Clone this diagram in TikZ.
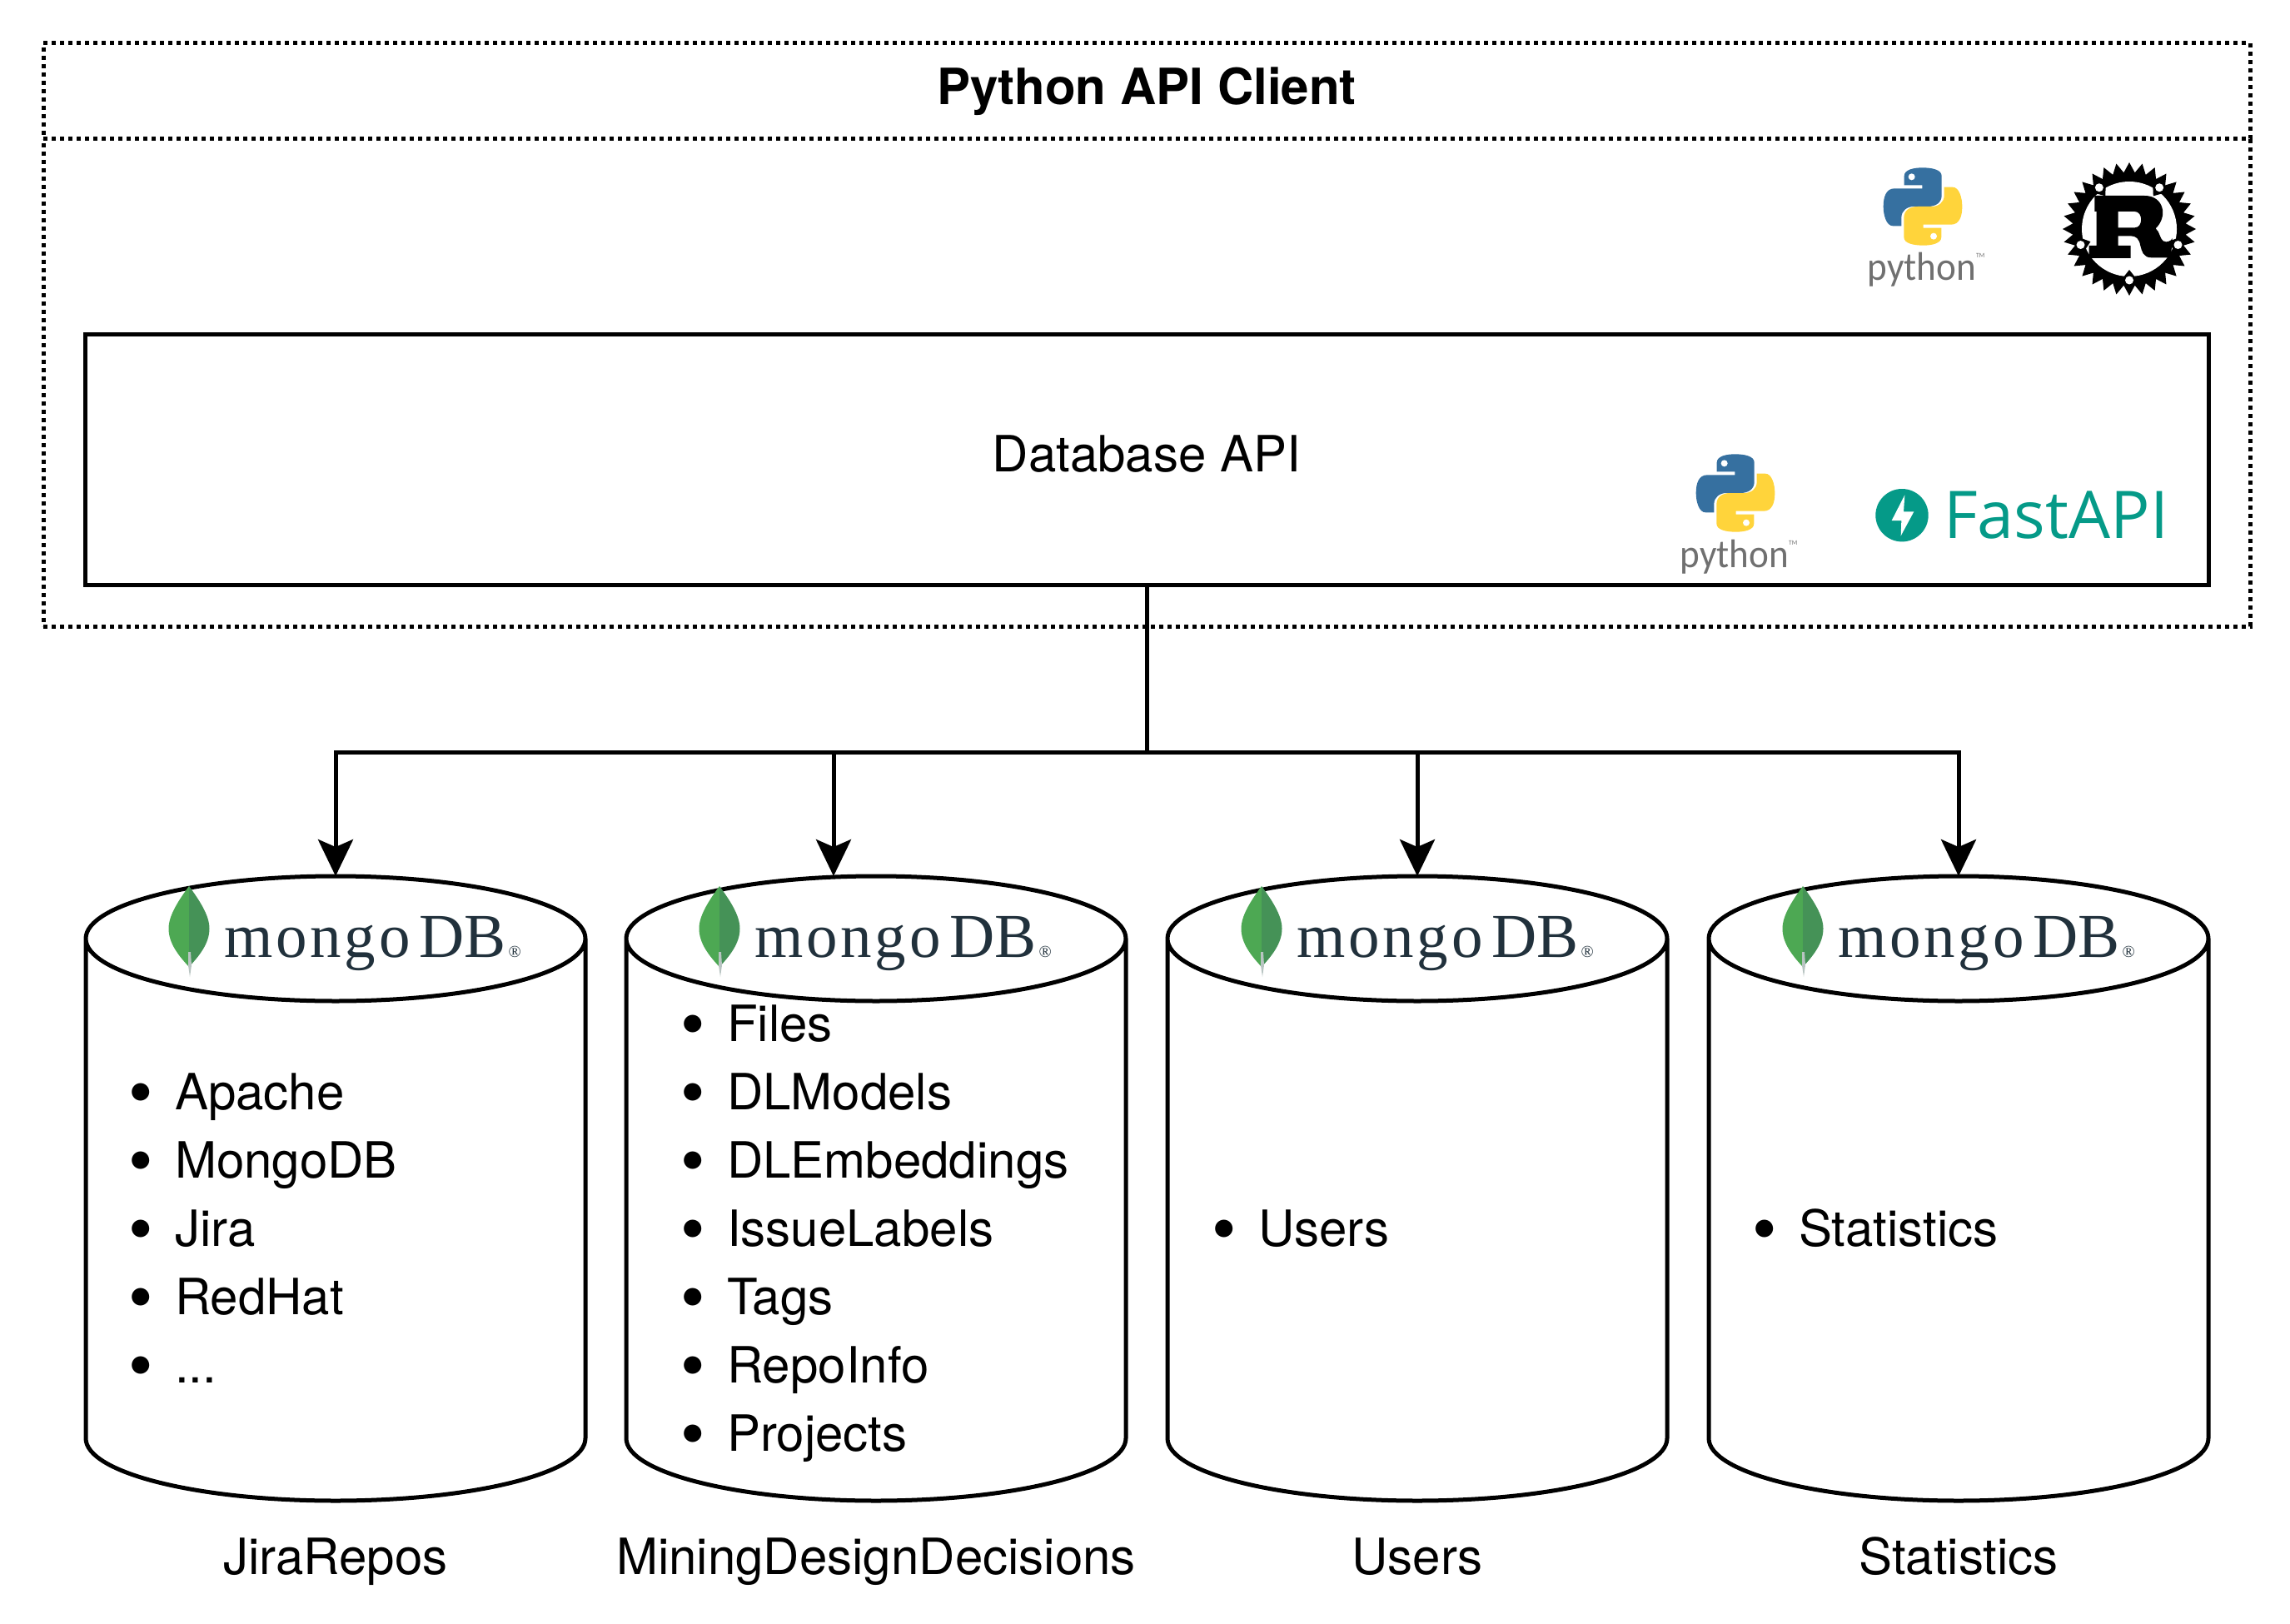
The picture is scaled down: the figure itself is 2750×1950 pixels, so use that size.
\documentclass[tikz,border=0pt]{standalone}
\usepackage{fontspec}
\setmainfont{TeX Gyre Heros}
\newfontfamily\mongofont{Liberation Serif}
\newfontfamily\pythonfont{Carlito}
\newfontfamily\fastfont{Open Sans}
\usetikzlibrary{arrows.meta}

\definecolor{pyblue}{HTML}{3670A0}
\definecolor{pyyellow}{HTML}{FFD43B}
\definecolor{pygrey}{HTML}{707070}
\definecolor{fastteal}{HTML}{059A88}
\definecolor{leafleft}{HTML}{4DA853}
\definecolor{leafright}{HTML}{459257}
\definecolor{leafstem}{HTML}{B8C4C2}
\definecolor{mongoink}{HTML}{21313C}

\newcommand{\dbitem}[1]{\makebox[56pt][l]{\raisebox{-8pt}[0pt][0pt]{\fontsize{84}{0}\selectfont\textbullet}}#1}

\tikzset{
  pythonlogo/.pic={
    \begin{scope}[scale=1/3,shift={(-927,-205)}]
      \fill[pyblue] (860,128) -- (860,95) .. controls (860,72) and (895,65) .. (925,65)
        .. controls (960,65) and (995,72) .. (995,95) -- (995,165)
        .. controls (995,190) and (975,205) .. (945,205) -- (895,205)
        .. controls (870,205) and (850,220) .. (850,245) -- (850,275) -- (820,275)
        .. controls (795,275) and (785,235) .. (785,205)
        .. controls (785,170) and (795,140) .. (825,140) -- (925,140) -- (925,128) -- cycle;
      \fill[pyyellow] (994,282) -- (994,315) .. controls (994,338) and (959,345) .. (929,345)
        .. controls (894,345) and (859,338) .. (859,315) -- (859,245)
        .. controls (859,220) and (879,205) .. (909,205) -- (959,205)
        .. controls (984,205) and (1004,190) .. (1004,165) -- (1004,135) -- (1034,135)
        .. controls (1059,135) and (1069,175) .. (1069,205)
        .. controls (1069,240) and (1059,270) .. (1029,270) -- (929,270) -- (929,282) -- cycle;
      \fill[white] (887,98) circle (12) (966,312) circle (12);
    \end{scope}
    \node[inner sep=0pt,text=pygrey,anchor=base,xscale=.94,
      font=\fontsize{48}{48}\pythonfont] (-word) at (4,89)
      {python\raisebox{27pt}{\fontsize{8}{8}\selectfont TM}};
  },
  rustlogo/.pic={
    \fill (90:80) \foreach \a in {1,...,31} {-- (90+\a*11.25-5.625:68) -- (90+\a*11.25:80)}
      -- (90-5.625:68) -- cycle;
    \fill[white] (0,0) circle (57);
    \foreach \a in {90,162,234,306,18} {
      \fill (\a-9:62) -- (\a:49) -- (\a+9:62) -- cycle;
      \fill[white] (\a:61.5) circle (5);
    }
    \begin{scope}[scale=1/3,shift={(-290,-285)}]
      \fill[even odd rule] (165,165) -- (345,165) .. controls (415,165) and (430,240) .. (385,283)
        .. controls (400,295) and (400,320) .. (412,328)
        .. controls (425,335) and (440,330) .. (445,318) -- (440,388) -- (370,388)
        .. controls (340,388) and (335,365) .. (330,345)
        .. controls (325,320) and (315,310) .. (295,310) -- (250,310) -- (250,345)
        -- (295,345) -- (295,390) -- (145,390) -- (145,345) -- (172,345) -- (172,222)
        -- (165,222) -- cycle
        (250,222) -- (310,222) .. controls (340,222) and (340,280) .. (310,280) -- (250,280) -- cycle;
    \end{scope}
  },
  fastlogo/.pic={
    \fill[fastteal] (0,0) circle (31.7);
    \begin{scope}[scale=1/3,shift={(-252,-176)}]
      \fill[white] (262,103) -- (215,195) -- (250,195) -- (248,250) -- (295,163) -- (258,163) -- cycle;
    \end{scope}
    \node[inner sep=0pt,text=fastteal,anchor=base west,
      font=\fontsize{79}{79}\fastfont] (-word) at (50,27.5) {FastAPI};
  },
  mongologo/.pic={
    \fill[leafleft] (0,-51) .. controls (-14,-32) and (-24.5,-15) .. (-24.5,0)
      .. controls (-24.5,18) and (-12,33) .. (0,46) -- cycle;
    \fill[leafright] (0,-51) .. controls (14,-32) and (24.5,-15) .. (24.5,0)
      .. controls (24.5,18) and (12,33) .. (0,46) -- cycle;
    \fill[leafstem] (-1,28) -- (2,28) -- (3,44) -- (1,58) -- (-1,44) -- cycle;
    \node[inner sep=0pt,text=mongoink,anchor=base west,
      font=\fontsize{75}{75}\mongofont] (-word) at (42,34)
      {{\addfontfeature{LetterSpace=5}mongo}\kern11pt DB\kern3pt{\fontsize{20}{20}\selectfont ®}};
  }
}

\begin{document}
\begin{tikzpicture}[x=1pt,y=-1pt,
  frame/.style={draw,line width=5pt,dash pattern=on 5pt off 5pt,inner sep=0pt,outer sep=0pt,
    minimum width=2650pt},
  apibox/.style={draw,line width=5pt,inner sep=0pt,outer sep=0pt,
    minimum width=2550pt,minimum height=300pt},
  dbcyl/.style={inner sep=0pt,outer sep=0pt,minimum width=600pt,minimum height=750pt},
  dbtext/.style={inner sep=0pt,align=left,anchor=west,font=\fontsize{60}{82}\selectfont},
  dblabel/.style={inner sep=0pt,anchor=base,font=\fontsize{60}{72}\selectfont},
  link/.style={line width=5pt,-{Stealth[length=44pt,width=42pt,inset=9pt]}}]

  \useasboundingbox (0,0) rectangle (2750,1950);

  % client
  \node [frame,minimum height=115pt,font=\fontsize{60}{72}\selectfont\bfseries] (client) at (1377,109.5) {Python API Client};
  \node [frame,minimum height=585pt] (clientbody) at (1377,459.5) {};
  \node [apibox] (dbapi) at (1377,552) {};
  \node [dblabel] (dbapitext) at (1377,566) {Database API};

  \pic (pyclient) at (2309,248) {pythonlogo};
  \pic (rust) at (2557,275) {rustlogo};
  \pic (pyapi) at (2084,592) {pythonlogo};
  \pic (fast) at (2284,618.7) {fastlogo};

  % databases
  \node [dbcyl] (jira) at (403,1427) {};
  \node [dbcyl] (mining) at (1052,1427) {};
  \node [dbcyl] (users) at (1702,1427) {};
  \node [dbcyl] (stats) at (2352,1427) {};

  \foreach \db in {jira,mining,users,stats} {
    \draw [line width=5pt] ([yshift=-75pt]\db.north west)
      arc [start angle=180,end angle=-180,x radius=300pt,y radius=75pt]
      -- ([yshift=75pt]\db.south west)
      arc [start angle=180,end angle=360,x radius=300pt,y radius=75pt]
      -- ([yshift=-75pt]\db.north east);
  }

  \pic (mongojira) at (227,1115) {mongologo};
  \pic (mongomining) at (864,1115) {mongologo};
  \pic (mongousers) at (1515,1115) {mongologo};
  \pic (mongostats) at (2165,1115) {mongologo};

  \node [dbtext] (jiralist) at (154,1475) {\dbitem{Apache}\\\dbitem{MongoDB}\\\dbitem{Jira}\\\dbitem{RedHat}\\\dbitem{...}};
  \node [dbtext] (mininglist) at (817,1481) {\dbitem{Files}\\\dbitem{DLModels}\\\dbitem{DLEmbeddings}\\\dbitem{IssueLabels}\\\dbitem{Tags}\\\dbitem{RepoInfo}\\\dbitem{Projects}};
  \node [dbtext] (userslist) at (1455,1475) {\dbitem{Users}};
  \node [dbtext] (statslist) at (2104,1475) {\dbitem{Statistics}};

  \node [dblabel] (jiralabel) at (403,1890) {JiraRepos};
  \node [dblabel] (mininglabel) at (1052,1890) {MiningDesignDecisions};
  \node [dblabel] (userslabel) at (1702,1890) {Users};
  \node [dblabel] (statslabel) at (2352,1890) {Statistics};

  % connectors
  \coordinate (hub) at (1377,903);
  \coordinate (miningin) at (1001,1052);
  \draw [line width=5pt] (dbapi.south) -- (hub);
  \draw [link] (hub) -| (jira.north);
  \draw [link] (hub) -| (miningin);
  \draw [link] (hub) -| (users.north);
  \draw [link] (hub) -| (stats.north);

\end{tikzpicture}
\end{document}
